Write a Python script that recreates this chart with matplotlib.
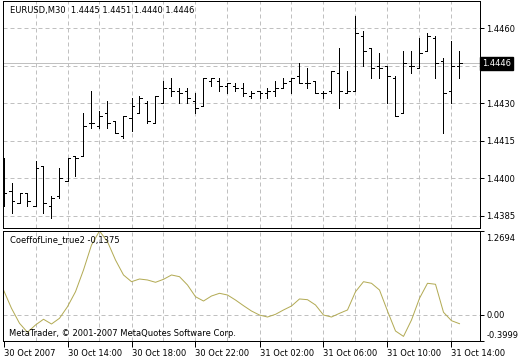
import matplotlib
matplotlib.use('Agg')
import matplotlib.pyplot as plt
import matplotlib.transforms as mtrans

# EURUSD M30 bars, 30 Oct 2007 10:00 onwards
opens = [1.4400, 1.4395, 1.4390, 1.4394, 1.4389, 1.4405, 1.4389, 1.4393,
         1.4399, 1.4409, 1.4409, 1.4422, 1.4421, 1.4426, 1.4423, 1.4417,
         1.4424, 1.4426, 1.4430, 1.4422, 1.4430, 1.4436, 1.4435, 1.4435,
         1.4431, 1.4429, 1.4439, 1.4439, 1.4437, 1.4437, 1.4436, 1.4433,
         1.4435, 1.4434, 1.4435, 1.4436, 1.4439, 1.4441, 1.4438, 1.4439,
         1.4434, 1.4435, 1.4442, 1.4434, 1.4435, 1.4457, 1.4452, 1.4445,
         1.4445, 1.4440, 1.4426, 1.4445, 1.4444, 1.4451, 1.4456, 1.4447,
         1.4435, 1.4445]
highs = [1.4408, 1.4398, 1.4394, 1.4394, 1.4407, 1.4405, 1.4393, 1.4404,
         1.4408, 1.4409, 1.4426, 1.4435, 1.4427, 1.4431, 1.4423, 1.4425,
         1.4432, 1.4433, 1.4431, 1.4433, 1.4439, 1.4440, 1.4436, 1.4436,
         1.4434, 1.4440, 1.4440, 1.4440, 1.4438, 1.4438, 1.4438, 1.4435,
         1.4435, 1.4436, 1.4439, 1.4440, 1.4440, 1.4446, 1.4444, 1.4439,
         1.4435, 1.4443, 1.4452, 1.4443, 1.4465, 1.4459, 1.4452, 1.4450,
         1.4445, 1.4441, 1.4451, 1.4451, 1.4456, 1.4458, 1.4457, 1.4448,
         1.4455, 1.4451]
lows = [1.4389, 1.4386, 1.4390, 1.4389, 1.4389, 1.4386, 1.4384, 1.4392,
        1.4399, 1.4401, 1.4409, 1.4420, 1.4420, 1.4420, 1.4418, 1.4416,
        1.4419, 1.4426, 1.4422, 1.4422, 1.4430, 1.4433, 1.4430, 1.4430,
        1.4426, 1.4429, 1.4437, 1.4435, 1.4434, 1.4435, 1.4433, 1.4432,
        1.4432, 1.4432, 1.4433, 1.4436, 1.4434, 1.4438, 1.4436, 1.4434,
        1.4432, 1.4434, 1.4428, 1.4434, 1.4435, 1.4445, 1.4440, 1.4440,
        1.4430, 1.4425, 1.4426, 1.4442, 1.4444, 1.4451, 1.4440, 1.4418,
        1.4430, 1.4440]
closes = [1.4394, 1.4391, 1.4394, 1.4391, 1.4404, 1.4390, 1.4392, 1.4400,
          1.4408, 1.4408, 1.4421, 1.4422, 1.4425, 1.4422, 1.4418, 1.4425,
          1.4429, 1.4432, 1.4423, 1.4433, 1.4436, 1.4435, 1.4434, 1.4432,
          1.4428, 1.4440, 1.4440, 1.4437, 1.4438, 1.4436, 1.4434, 1.4434,
          1.4434, 1.4435, 1.4436, 1.4438, 1.4440, 1.4438, 1.4438, 1.4434,
          1.4434, 1.4443, 1.4435, 1.4435, 1.4458, 1.4451, 1.4444, 1.4444,
          1.4441, 1.4425, 1.4446, 1.4445, 1.4450, 1.4457, 1.4446, 1.4434,
          1.4445, 1.4446]

# CoeffofLine_true2 indicator
coeff = [0.374, 0.096, -0.131, -0.268, -0.157, -0.070, -0.142, -0.055,
         0.121, 0.348, 0.678, 1.057, 1.2694, 1.107, 0.829, 0.602,
         0.500, 0.541, 0.526, 0.491, 0.536, 0.602, 0.576, 0.450,
         0.272, 0.207, 0.283, 0.324, 0.298, 0.222, 0.136, 0.055,
         -0.006, -0.036, 0.005, 0.071, 0.131, 0.238, 0.227, 0.147,
         -0.006, -0.036, 0.020, 0.071, 0.348, 0.500, 0.476, 0.374,
         0.055, -0.248, -0.330, -0.081, 0.248, 0.476, 0.461, 0.036,
         -0.092, -0.1375]

price_ticks = [1.4385, 1.4400, 1.4415, 1.4430, 1.4445, 1.4460]
price_labels = ['1.4385', '1.4400', '1.4415', '1.4430', '', '1.4460']
coeff_ticks = [-0.3999, 0.0, 1.2694]
coeff_labels = ['-0.3999', '0.00', '1.2694']
time_pos = [0, 8, 16, 24, 32, 40, 48, 56]
time_labels = ['30 Oct 2007', '30 Oct 14:00', '30 Oct 18:00', '30 Oct 22:00',
               '31 Oct 02:00', '31 Oct 06:00', '31 Oct 10:00', '31 Oct 14:00']
last_price = 1.4446

W, H = 520, 360
px = 0.72  # one pixel in points at dpi 100
grid_col = '#c0c0c0'
line_col = '#b3ab55'
fs = 6

plt.rcParams['font.family'] = 'DejaVu Sans'
fig = plt.figure(figsize=(W / 100, H / 100), dpi=100)

def pix_axes(x0, y0, x1, y1):
    return fig.add_axes([x0 / W, 1 - y1 / H, (x1 - x0) / W, (y1 - y0) / H])

ax = pix_axes(3, 0.5, 480, 228)
ax2 = pix_axes(3, 231, 480, 341)

n = len(closes)
xs = list(range(n))
xl = (3 - 3.5) / 8
xr = (480 - 3.5) / 8

# price scale: 1.4460 at y=28.3px, 25000 px per unit
def ypix_to_price(y):
    return 1.4460 - (y - 28.3) / 25000

for a in (ax, ax2):
    a.set_xlim(xl, xr)
    for s in a.spines.values():
        s.set_linewidth(px)
        s.set_color('black')
    for g in range(4, n, 4):
        a.axvline(g, color=grid_col, lw=px, ls=(0, (4, 3)), zorder=0)

ax.set_ylim(ypix_to_price(228), ypix_to_price(0.5))
for p in price_ticks:
    ax.axhline(p, color=grid_col, lw=px, ls=(0, (4, 3)), zorder=0)
ax.axhline(last_price, color=grid_col, lw=px, zorder=0.5)

# OHLC bars
ax.vlines(xs, lows, highs, color='black', lw=px, antialiased=False)
ax.hlines(opens, [x - 0.35 for x in xs], xs, color='black', lw=px, antialiased=False)
ax.hlines(closes, xs, [x + 0.35 for x in xs], color='black', lw=px, antialiased=False)

ax.yaxis.tick_right()
ax.set_yticks(price_ticks)
ax.set_yticklabels(price_labels)
ax.tick_params(axis='y', length=3, width=px, pad=1.5, labelsize=fs, direction='out')
ax.set_xticks([])

bt = mtrans.blended_transform_factory(ax.transAxes, ax.transData)
ax.text(1.004, last_price, '1.4446', transform=bt, color='white', fontsize=fs,
        va='center', ha='left',
        bbox=dict(facecolor='black', edgecolor='black', pad=1.3))

ax.text(7 / 477, 1 - 10 / 227.5, 'EURUSD,M30  1.4445 1.4451 1.4440 1.4446',
        transform=ax.transAxes, fontsize=fs, va='center', ha='left', zorder=5)

# indicator window
ax2.set_ylim(-0.3999, 1.2694)
ax2.axhline(0, color=grid_col, lw=px, ls=(0, (4, 3)), zorder=0)
ax2.plot(xs, coeff, color=line_col, lw=px, zorder=2)
ax2.yaxis.tick_right()
ax2.set_yticks(coeff_ticks)
ax2.set_yticklabels(coeff_labels)
ax2.tick_params(axis='y', length=3, width=px, pad=1.5, labelsize=fs, direction='out')
labs = ax2.get_yticklabels()
labs[0].set_va('bottom')
labs[0].set_transform(labs[0].get_transform() + mtrans.ScaledTranslation(0, 1 / 100, fig.dpi_scale_trans))
labs[2].set_va('top')
labs[2].set_transform(labs[2].get_transform() + mtrans.ScaledTranslation(0, -3 / 100, fig.dpi_scale_trans))

ax2.set_xticks(time_pos)
ax2.set_xticklabels(time_labels, ha='left')
ax2.tick_params(axis='x', length=4, width=px, pad=2, labelsize=fs, direction='out')

ax2.text(7 / 477, 1 - 9 / 110, 'CoeffofLine_true2 -0,1375',
         transform=ax2.transAxes, fontsize=fs, va='center', ha='left', zorder=5)
ax2.text(6 / 477, 7 / 110, 'MetaTrader, \u00a9 2001-2007 MetaQuotes Software Corp.',
         transform=ax2.transAxes, fontsize=fs, va='center', ha='left', zorder=5)

fig.savefig('out.png', dpi=100)
